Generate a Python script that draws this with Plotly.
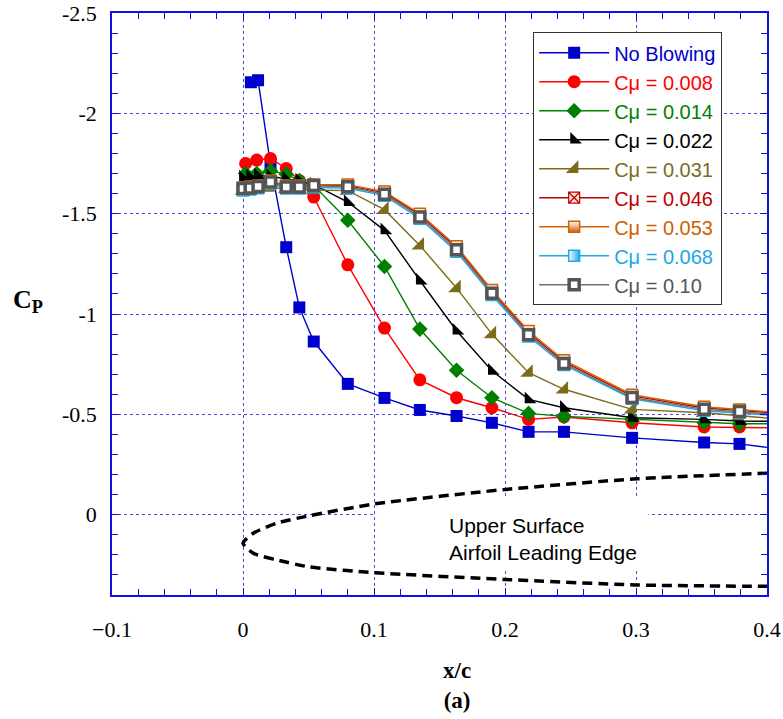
import plotly.graph_objects as go

# ---------------- data ----------------
x_blue = [0.006, 0.0115, 0.021, 0.033, 0.043, 0.054, 0.080, 0.108, 0.135, 0.163, 0.190, 0.218, 0.245, 0.297, 0.352, 0.379, 0.407]
cp_blue = [-2.155, -2.165, -1.745, -1.333, -1.033, -0.863, -0.652, -0.582, -0.522, -0.492, -0.458, -0.413, -0.413, -0.383, -0.360, -0.353, -0.330]

x_red = [0.002, 0.0105, 0.021, 0.033, 0.043, 0.054, 0.080, 0.108, 0.135, 0.163, 0.190, 0.218, 0.245, 0.297, 0.352, 0.379, 0.407]
cp_red = [-1.750, -1.767, -1.775, -1.725, -1.665, -1.583, -1.245, -0.930, -0.672, -0.583, -0.533, -0.475, -0.487, -0.458, -0.437, -0.437, -0.433]

x_green = [0.002, 0.0105, 0.021, 0.033, 0.043, 0.054, 0.080, 0.108, 0.135, 0.163, 0.190, 0.218, 0.245, 0.297, 0.352, 0.379, 0.407]
cp_green = [-1.700, -1.700, -1.713, -1.697, -1.665, -1.640, -1.467, -1.237, -0.925, -0.720, -0.583, -0.505, -0.490, -0.475, -0.458, -0.453, -0.453]

x_st = [0.0, 0.0055, 0.0115, 0.021, 0.033, 0.043, 0.054, 0.080, 0.108, 0.135, 0.163, 0.190, 0.218, 0.245, 0.297, 0.352, 0.379, 0.407]
cp_022 = [-1.680, -1.685, -1.690, -1.685, -1.675, -1.665, -1.645, -1.558, -1.417, -1.167, -0.917, -0.717, -0.575, -0.533, -0.483, -0.475, -0.467, -0.465]
cp_031 = [-1.615, -1.618, -1.622, -1.630, -1.625, -1.620, -1.618, -1.615, -1.520, -1.342, -1.130, -0.900, -0.708, -0.625, -0.525, -0.508, -0.492, -0.478]
cp_046 = [-1.628, -1.630, -1.638, -1.660, -1.636, -1.636, -1.642, -1.640, -1.604, -1.494, -1.330, -1.113, -0.907, -0.762, -0.592, -0.532, -0.520, -0.506]
cp_053 = [-1.630, -1.635, -1.640, -1.665, -1.640, -1.640, -1.645, -1.645, -1.610, -1.500, -1.338, -1.120, -0.915, -0.770, -0.598, -0.538, -0.524, -0.510]
cp_068 = [-1.615, -1.620, -1.627, -1.650, -1.625, -1.625, -1.632, -1.627, -1.590, -1.475, -1.310, -1.095, -0.888, -0.746, -0.578, -0.518, -0.508, -0.494]
cp_100 = [-1.625, -1.628, -1.635, -1.658, -1.633, -1.633, -1.640, -1.634, -1.597, -1.484, -1.320, -1.104, -0.897, -0.754, -0.584, -0.525, -0.514, -0.500]

# airfoil leading-edge outline (drawn in Cp coordinates)
x_foil = [0.4006, 0.3006, 0.2006, 0.1006, 0.0506, 0.0257, 0.0079, 0.0, 0.0079, 0.0257, 0.0506, 0.1006, 0.2006, 0.3006, 0.4006]
cp_foil = [-0.207, -0.179, -0.126, -0.054, 0.005, 0.042, 0.092, 0.142, 0.192, 0.225, 0.260, 0.289, 0.323, 0.350, 0.357]

y_tickvals = [-2.5, -2.0, -1.5, -1.0, -0.5, 0.0]
y_ticktext = ["-2.5", "-2", "-1.5", "-1", "-0.5", "0"]

series_names = ["No Blowing", "C\u03bc = 0.008", "C\u03bc = 0.014", "C\u03bc = 0.022", "C\u03bc = 0.031",
                "C\u03bc = 0.046", "C\u03bc = 0.053", "C\u03bc = 0.068", "C\u03bc = 0.10"]

# ---------------- styling ----------------
AX = "#1010E0"
GRID = "#4848E8"

def nm(text, color):
    return '<span style="color:%s">%s</span>' % (color, text)

fig = go.Figure()

def add(x, y, name, color, text_color, marker):
    fig.add_trace(go.Scatter(
        x=x, y=y, mode="lines+markers", name=nm(name, text_color),
        line=dict(color=color, width=1.4), marker=marker, cliponaxis=True))

add(x_blue, cp_blue, series_names[0], "#0000CC", "#0000CC",
    dict(symbol="square", size=12, color="#0000CC", line=dict(width=0)))
add(x_red, cp_red, series_names[1], "#FF0000", "#FF0000",
    dict(symbol="circle", size=13, color="#FF0000", line=dict(width=0)))
add(x_green, cp_green, series_names[2], "#008000", "#008000",
    dict(symbol="diamond", size=12, color="#008000", line=dict(width=0)))
add(x_st, cp_022, series_names[3], "#000000", "#000000",
    dict(symbol="triangle-sw", size=13, color="#000000", line=dict(width=0)))
add(x_st, cp_031, series_names[4], "#7D6B1C", "#7D6B1C",
    dict(symbol="triangle-se", size=14, color="#7D6B1C", line=dict(width=0)))
add(x_st, cp_046, series_names[5], "#C00000", "#C00000",
    dict(symbol="square-x", size=11, color="#FFE0E0", line=dict(color="#C00000", width=1.2)))
add(x_st, cp_053, series_names[6], "#D06000", "#D06000",
    dict(symbol="square", size=11, color="#FFFFFF", line=dict(color="#D06000", width=1.5),
         gradient=dict(type="vertical", color="#D06000")))
add(x_st, cp_068, series_names[7], "#20A8E8", "#20A8E8",
    dict(symbol="square", size=11, color="#FFFFFF", line=dict(color="#20A8E8", width=1.5),
         gradient=dict(type="horizontal", color="#20A8E8")))
add(x_st, cp_100, series_names[8], "#707070", "#555555",
    dict(symbol="square", size=10, color="#FFFFFF", line=dict(color="#555555", width=3.5)))

fig.add_trace(go.Scatter(x=x_foil, y=cp_foil, mode="lines", showlegend=False,
                         line=dict(color="black", width=3.5, dash="10px,6px", shape="spline", smoothing=0.6),
                         hoverinfo="skip"))

axis_common = dict(
    showline=True, linecolor=AX, linewidth=1.5, mirror="ticks",
    ticks="inside", ticklen=7, tickcolor=AX, tickwidth=1,
    showgrid=True, gridcolor=GRID, gridwidth=1, griddash="dot",
    zeroline=False, automargin=False, ticklabeloverflow="allow",
    tickfont=dict(family="Liberation Serif", size=22, color="black"),
)

fig.update_xaxes(range=[-0.1, 0.4], tick0=0, dtick=0.1, ticklabelstandoff=14,
                 minor=dict(dtick=0.02, tick0=0, ticks="inside", ticklen=6, tickcolor=AX, showgrid=False),
                 **axis_common)
fig.update_yaxes(range=[0.4, -2.5], tickmode="array", tickvals=y_tickvals, ticktext=y_ticktext,
                 ticklabelstandoff=9,
                 minor=dict(dtick=0.1, tick0=0, ticks="inside", ticklen=6, tickcolor=AX, showgrid=False),
                 **axis_common)

fig.update_layout(
    width=783, height=719,
    margin=dict(l=112, r=16, t=13, b=124, autoexpand=False),
    plot_bgcolor="white", paper_bgcolor="white",
    showlegend=True,
    legend=dict(x=0.643, y=0.967, xanchor="left", yanchor="top",
                bgcolor="white", bordercolor="#333333", borderwidth=1,
                font=dict(family="Liberation Sans", size=20),
                itemwidth=70, tracegroupgap=0),
    shapes=[dict(type="rect", xref="x", yref="y", x0=0.1016, x1=0.3096, y0=-0.09, y1=0.27,
                 fillcolor="white", line=dict(width=0), layer="between")],
    annotations=[
        dict(text="Upper Surface<br>Airfoil Leading Edge", x=0.156, y=-0.015, xref="x", yref="y",
             xanchor="left", yanchor="top", align="left", showarrow=False,
             font=dict(family="Liberation Sans", size=21, color="black")),
        dict(text="<b>x/c<br>(a)</b>", x=0.527, y=-0.1554, xref="paper", yref="paper",
             xanchor="center", yanchor="middle", align="center", showarrow=False,
             font=dict(family="Liberation Serif", size=23, color="black")),
        dict(text="<b>C<sub>P</sub></b>", x=-0.129, y=0.505, xref="paper", yref="paper",
             xanchor="center", yanchor="middle", showarrow=False,
             font=dict(family="Liberation Serif", size=26, color="black")),
    ],
)

fig.write_html("out.html", config={"displayModeBar": False},
               post_script="document.body.style.margin='0';")
